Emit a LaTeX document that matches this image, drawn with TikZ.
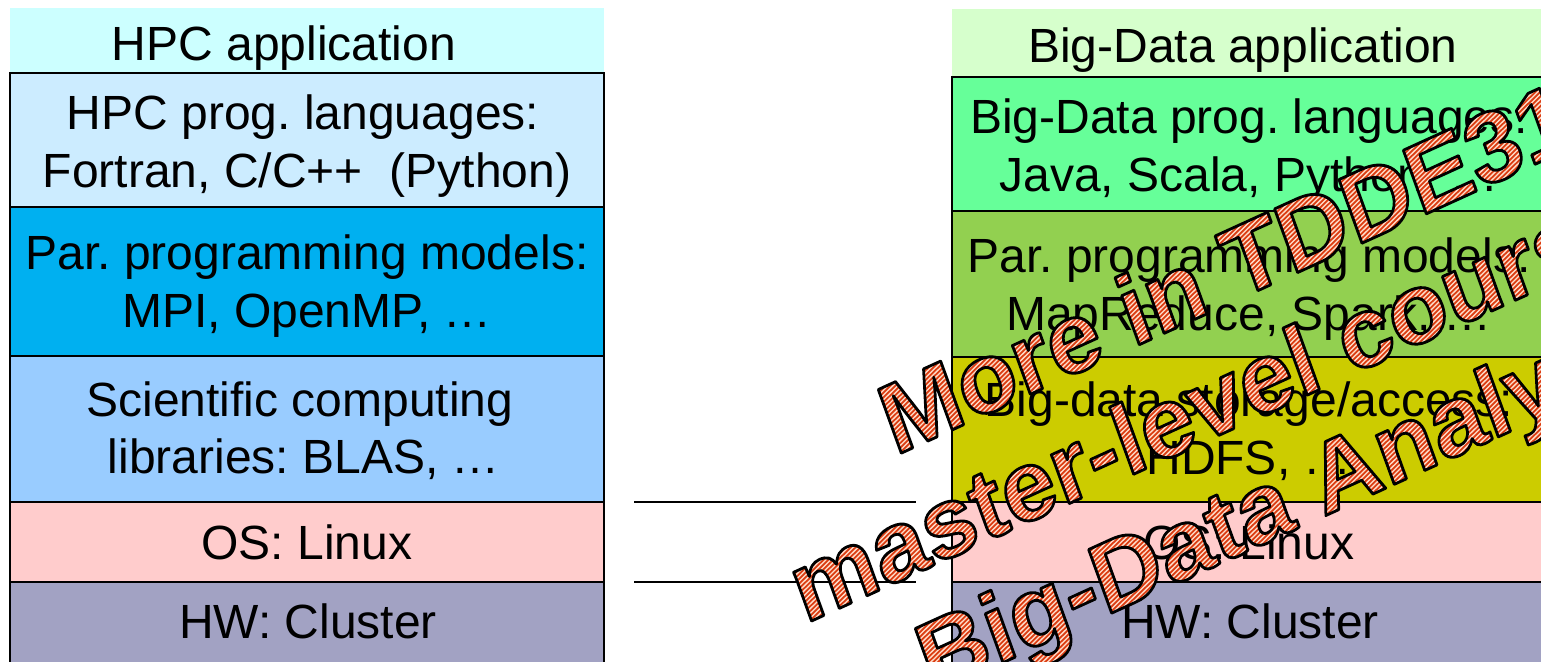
\documentclass[tikz,border=0pt]{standalone}
\usepackage{fontspec}
\setmainfont{Liberation Sans}
\newfontfamily\stampfont{Liberation Sans}
\usetikzlibrary{fit}

\definecolor{hpcApp}{HTML}{CCFFFF}
\definecolor{hpcLang}{HTML}{CCECFF}
\definecolor{hpcPar}{HTML}{00B0F0}
\definecolor{hpcLib}{HTML}{99CCFF}
\definecolor{osPink}{HTML}{FFCCCC}
\definecolor{hwGrey}{HTML}{A2A2C3}
\definecolor{bdApp}{HTML}{D6FFCC}
\definecolor{bdLang}{HTML}{66FF99}
\definecolor{bdPar}{HTML}{92D050}
\definecolor{bdStore}{HTML}{CCCC00}

% diagonal stripe paths (PDF operators, in bp) used to fill the stamp lettering
\def\stampstripes{}
\foreach \i in {0,...,160}{%
  \pgfmathsetmacro\ya{-235+1.86*\i}%
  \pgfmathsetmacro\yb{\ya+209.4}%
  \xdef\stampstripes{\stampstripes\space -30 \ya\space m 530 \yb\space l}%
}

% hatched lettering: glyphs used as a clip for the stripes, then outlined
\newsavebox\stampbox
\newcommand\hatchtext[1]{%
  \sbox\stampbox{#1}%
  \rlap{\special{x:gsave}\special{pdf:literal direct 7 Tr}\usebox\stampbox\special{pdf:literal direct 0 Tr}}%
  \special{pdf:literal 1 0.87 0.80 rg -40 -40 620 120 re f 0.86 0.24 0.07 RG 0.9 w 0 J\stampstripes\space S}%
  \special{x:grestore}%
  \rlap{\special{x:gsave}\special{pdf:literal direct 1 Tr 1.4 w 1 j 0.70 0.17 0.02 RG}\usebox\stampbox\special{x:grestore}}%
  \phantom{\usebox\stampbox}%
}

\begin{document}
\frenchspacing
\begin{tikzpicture}[x=0.5pt, y=-0.5pt,
  layer/.style={draw=black, line width=0.8pt, inner sep=0pt},
  appbox/.style={draw=none, inner sep=0pt},
  lbl/.style={inner sep=0pt, anchor=base, font=\fontsize{24}{28.5}\selectfont, text=black},
  stamp/.style={inner sep=0pt, anchor=base west, rotate=24.5, xslant=0.08,
    font=\stampfont\bfseries\fontsize{49}{58}\selectfont},
  gapline/.style={draw=black, line width=0.8pt}
]
\useasboundingbox (0,0) rectangle (1541,662);

% ---- HPC software stack ----
\node[appbox, fill=hpcApp, fit={(10,8)(604,73)}] (hpcAppBox) {};
\node[layer, fill=hpcLang, fit={(10,73)(604,207)}] (hpcLangBox) {};
\node[layer, fill=hpcPar, fit={(10,207)(604,356)}] (hpcParBox) {};
\node[layer, fill=hpcLib, fit={(10,356)(604,502)}] (hpcLibBox) {};
\node[layer, fill=osPink, fit={(10,502)(604,582)}] (hpcOsBox) {};
\node[layer, fill=hwGrey, fit={(10,582)(604,672)}] (hpcHwBox) {};

\node[lbl] (hpcAppT) at (284,61) {HPC application};
\node[lbl] (hpcLangT1) at (303,130) {HPC prog. languages:};
\node[lbl] (hpcLangT2) at (307,187.5) {Fortran, C/C++ \ (Python)};
\node[lbl] (hpcParT1) at (307,270) {Par. programming models:};
\node[lbl] (hpcParT2) at (307,327.5) {MPI, OpenMP, …};
\node[lbl] (hpcLibT1) at (300,416) {Scientific computing};
\node[lbl] (hpcLibT2) at (304,473.5) {libraries: BLAS, …};
\node[lbl] (hpcOsT) at (307,559) {OS: Linux};
\node[lbl] (hpcHwT) at (308,638) {HW: Cluster};

% ---- Big-Data software stack ----
\node[appbox, fill=bdApp, fit={(952,9)(1546,77)}] (bdAppBox) {};
\node[layer, fill=bdLang, fit={(952,77)(1546,211)}] (bdLangBox) {};
\node[layer, fill=bdPar, fit={(952,211)(1546,357)}] (bdParBox) {};
\node[layer, fill=bdStore, fit={(952,357)(1546,502)}] (bdStoreBox) {};
\node[layer, fill=osPink, fit={(952,502)(1546,582)}] (bdOsBox) {};
\node[layer, fill=hwGrey, fit={(952,582)(1546,672)}] (bdHwBox) {};

\node[lbl] (bdAppT) at (1243,63) {Big-Data application};
\node[lbl] (bdLangT1) at (1249,134) {Big-Data prog. languages:};
\node[lbl] (bdLangT2) at (1249,191.5) {Java, Scala, Python, …};
\node[lbl] (bdParT1) at (1249,273) {Par. programming models:};
\node[lbl] (bdParT2) at (1249,330.5) {MapReduce, Spark, …};
\node[lbl] (bdStoreT1) at (1249,416.5) {Big-data storage/access:};
\node[lbl] (bdStoreT2) at (1249,474) {HDFS, …};
\node[lbl] (bdOsT) at (1249,559) {OS: Linux};
\node[lbl] (bdHwT) at (1250,638) {HW: Cluster};

% ---- shared OS / HW levels between the stacks ----
\coordinate (osGapL) at (634,502);
\coordinate (osGapR) at (916,502);
\coordinate (hwGapL) at (634,582);
\coordinate (hwGapR) at (916,582);
\draw[gapline] (osGapL) -- (osGapR);
\draw[gapline] (hwGapL) -- (hwGapR);

% ---- course stamp ----
\node[stamp] (stampA) at (895,456) {\hatchtext{More in TDDE31}};
\node[stamp] (stampB) at (805,624) {\hatchtext{master-level course}};
\node[stamp] (stampC) at (932,695) {\hatchtext{Big-Data Analytics}};
\end{tikzpicture}
\end{document}
